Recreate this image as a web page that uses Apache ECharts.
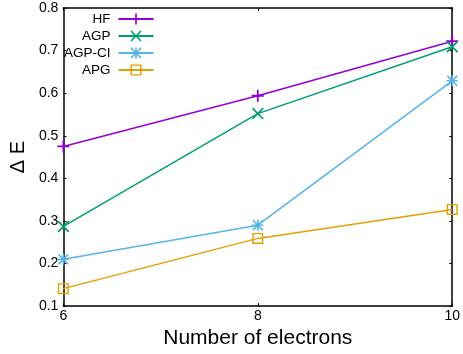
<!DOCTYPE html>
<html>
<head>
<meta charset="utf-8">
<script src="https://cdn.jsdelivr.net/npm/echarts@6/dist/echarts.min.js"></script>
<style>
    html, body { margin: 0; padding: 0; background: #fff; }
    #chart { width: 463px; height: 354px; }
</style>
</head>
<body>
<div id="chart"></div>
<script>
// number of electrons
var electrons = [6, 8, 10];
// ΔE per method
var hf = [0.475, 0.594, 0.722];
var agp = [0.287, 0.552, 0.709];
var agpCi = [0.210, 0.290, 0.629];
var apg = [0.141, 0.259, 0.327];

var names = ['HF', 'AGP', 'AGP-CI', 'APG'];
var colors = ['#9400D3', '#009E73', '#56B4E9', '#E69F00'];

// gnuplot-like point types
var PLUS = 'path://M4.25,0H5.75V10H4.25Z M0,4.25H10V5.75H0Z';
var CROSS = 'path://M0,1L1,0L10,9L9,10Z M9,0L10,1L1,10L0,9Z';
var STAR = 'path://M4.3,0H5.7V10H4.3Z M0,4.3H10V5.7H0Z M0,1L1,0L10,9L9,10Z M9,0L10,1L1,10L0,9Z';
var SQUARE = 'path://M0,0H10V10H0Z M1.3,1.3V8.7H8.7V1.3Z';
var symbols = [PLUS, CROSS, STAR, SQUARE];
var sizes = [12, 12, 11, 11];

function pairs(ys) {
    return electrons.map(function (x, i) { return [x, ys[i]]; });
}

var font = 'Liberation Sans, Arial, sans-serif';
var chart = echarts.init(document.getElementById('chart'));

chart.setOption({
    animation: false,
    color: colors,
    grid: { left: 58, right: 8, top: 8, bottom: 47 },
    legend: {
        orient: 'vertical',
        align: 'right',
        left: 64,
        top: 12,
        padding: 0,
        itemWidth: 35,
        itemHeight: 14,
        itemGap: 3,
        textStyle: { fontFamily: font, fontSize: 13.5, color: '#000', padding: [0, 3, 0, 0] },
        data: names
    },
    xAxis: [{
        type: 'value',
        min: 6,
        max: 10,
        interval: 2,
        name: 'Number of electrons',
        nameLocation: 'middle',
        nameGap: 17,
        nameTextStyle: { fontFamily: font, fontSize: 21, color: '#000' },
        axisLine: { lineStyle: { color: '#000', width: 1.5 } },
        axisTick: { inside: true, length: 3, lineStyle: { color: '#000' } },
        axisLabel: { fontFamily: font, fontSize: 14, color: '#000', margin: 3 },
        splitLine: { show: false }
    }, {
        type: 'value',
        position: 'top',
        min: 6,
        max: 10,
        interval: 2,
        axisLine: { lineStyle: { color: '#000', width: 1.5 } },
        axisTick: { inside: true, length: 3, lineStyle: { color: '#000' } },
        axisLabel: { show: false },
        splitLine: { show: false }
    }],
    yAxis: [{
        type: 'value',
        min: 0.1,
        max: 0.8,
        interval: 0.1,
        name: 'Δ E',
        nameLocation: 'middle',
        nameGap: 30,
        nameTextStyle: { fontFamily: font, fontSize: 20, color: '#000' },
        axisLine: { show: true, lineStyle: { color: '#000', width: 1.5 } },
        axisTick: { show: true, inside: true, length: 3, lineStyle: { color: '#000' } },
        axisLabel: {
            fontFamily: font, fontSize: 14, color: '#000', margin: 5,
            formatter: function (v) { return (Math.round(v * 10) / 10).toString(); }
        },
        splitLine: { show: false }
    }, {
        type: 'value',
        position: 'right',
        min: 0.1,
        max: 0.8,
        interval: 0.1,
        axisLine: { show: true, lineStyle: { color: '#000', width: 1.5 } },
        axisTick: { show: true, inside: true, length: 3, lineStyle: { color: '#000' } },
        axisLabel: { show: false },
        splitLine: { show: false }
    }],
    series: [hf, agp, agpCi, apg].map(function (ys, i) {
        return {
            name: names[i],
            type: 'line',
            data: pairs(ys),
            symbol: symbols[i],
            symbolSize: sizes[i],
            showAllSymbol: true,
            clip: false,
            lineStyle: { color: colors[i], width: 1.5 },
            itemStyle: { color: colors[i], borderWidth: 0 },
            emphasis: { disabled: true }
        };
    })
});
</script>
</body>
</html>
